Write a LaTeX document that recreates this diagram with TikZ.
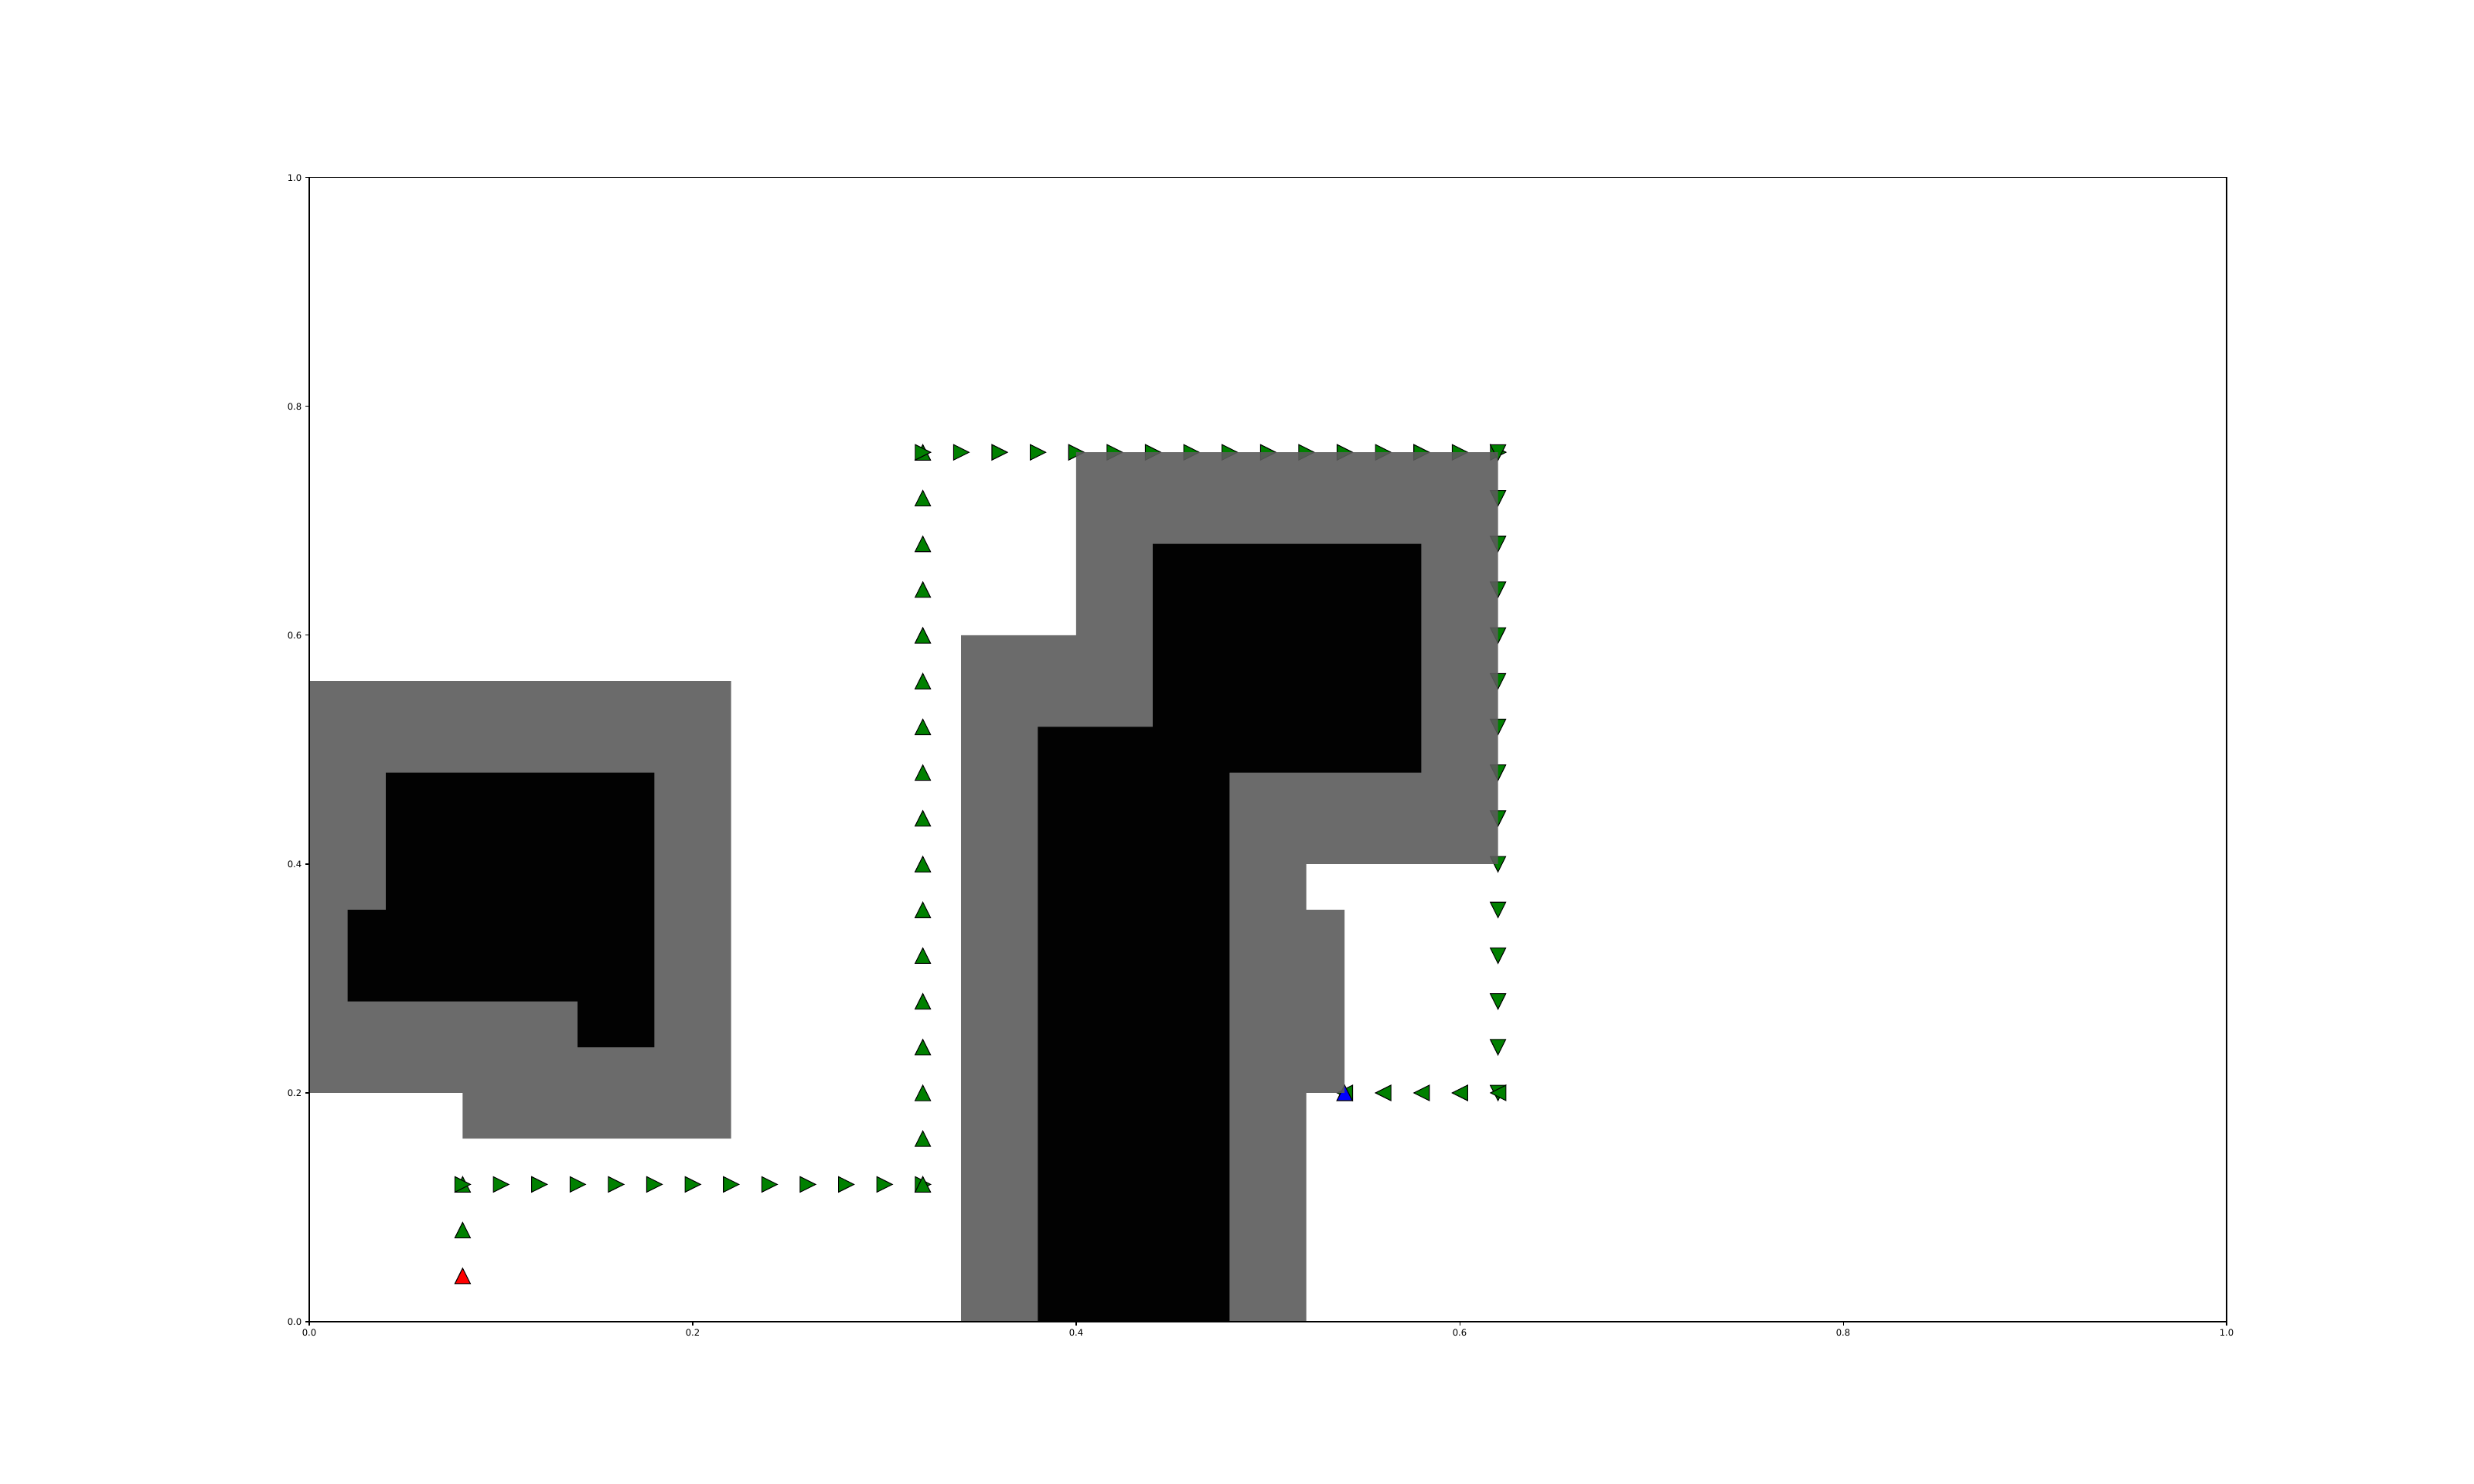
\documentclass[tikz,border=0pt]{standalone}
\usepackage{fontspec}
\setmainfont{DejaVu Sans}
\definecolor{mgreen}{RGB}{0,128,0}
\definecolor{mred}{RGB}{255,0,0}
\definecolor{mblue}{RGB}{0,0,255}
\definecolor{infl}{RGB}{91,91,91}
\definecolor{obst}{RGB}{2,2,2}
\tikzset{
  mk/.style={draw=black, line width=0.3pt, line join=miter},
  inflated/.style={fill=infl, fill opacity=0.9, draw=none},
  obstacle/.style={fill=obst, draw=none},
  spine/.style={draw=black, line width=0.3pt},
  ticklab/.style={font=\fontsize{3.3pt}{4pt}\selectfont, inner sep=0pt}
}
\newcommand{\triU}[3]{\draw[mk,fill=#1] (#2,#3) ++(0cm,0.1cm) -- ++(-0.1cm,-0.2cm) -- ++(0.2cm,0cm) -- cycle;}
\newcommand{\triR}[3]{\draw[mk,fill=#1] (#2,#3) ++(0.1cm,0cm) -- ++(-0.2cm,0.1cm) -- ++(0cm,-0.2cm) -- cycle;}
\newcommand{\triD}[3]{\draw[mk,fill=#1] (#2,#3) ++(0cm,-0.1cm) -- ++(-0.1cm,0.2cm) -- ++(0.2cm,0cm) -- cycle;}
\newcommand{\triL}[3]{\draw[mk,fill=#1] (#2,#3) ++(-0.1cm,0cm) -- ++(0.2cm,0.1cm) -- ++(0cm,-0.2cm) -- cycle;}
\begin{document}
\begin{tikzpicture}
\useasboundingbox (0,0) rectangle (32,19.2);
\begin{scope}[shift={(4,2.1)}, x=24.8cm, y=14.8cm]
  % path markers in path order
  \triU{mred}{0.08}{0.04}
  \triU{mgreen}{0.08}{0.08}
  \triU{mgreen}{0.08}{0.12}
  \foreach \i in {4,...,16} {\triR{mgreen}{\i*0.02}{0.12}}
  \foreach \i in {3,...,19} {\triU{mgreen}{0.32}{\i*0.04}}
  \foreach \i in {16,...,31} {\triR{mgreen}{\i*0.02}{0.76}}
  \foreach \i in {19,18,...,5} {\triD{mgreen}{0.62}{\i*0.04}}
  \foreach \i in {31,30,...,27} {\triL{mgreen}{\i*0.02}{0.20}}
  \triU{mblue}{0.54}{0.20}
  % inflated zones
  \path[inflated] (0,0.56) -- (0.22,0.56) -- (0.22,0.16) -- (0.08,0.16) -- (0.08,0.20) -- (0,0.20) -- cycle;
  \path[inflated] (0.34,0) -- (0.34,0.60) -- (0.40,0.60) -- (0.40,0.76) -- (0.62,0.76) -- (0.62,0.40) -- (0.52,0.40) -- (0.52,0.36) -- (0.54,0.36) -- (0.54,0.20) -- (0.52,0.20) -- (0.52,0) -- cycle;
  % obstacles
  \path[obstacle] (0.04,0.48) -- (0.18,0.48) -- (0.18,0.24) -- (0.14,0.24) -- (0.14,0.28) -- (0.02,0.28) -- (0.02,0.36) -- (0.04,0.36) -- cycle;
  \path[obstacle] (0.38,0) -- (0.38,0.52) -- (0.44,0.52) -- (0.44,0.68) -- (0.58,0.68) -- (0.58,0.48) -- (0.48,0.48) -- (0.48,0) -- cycle;
  % axes
  \draw[spine] (0,0) rectangle (1,1);
  \foreach \t/\l in {0/0.0,0.2/0.2,0.4/0.4,0.6/0.6,0.8/0.8,1/1.0} {
    \draw[spine] (\t,0) -- ++(0cm,-0.05cm);
    \node[ticklab, anchor=north] (xt\l) at ([yshift=-0.09cm]\t,0) {\l};
    \draw[spine] (0,\t) -- ++(-0.05cm,0cm);
    \node[ticklab, anchor=east] (yt\l) at ([xshift=-0.09cm]0,\t) {\l};
  }
\end{scope}
\end{tikzpicture}
\end{document}
